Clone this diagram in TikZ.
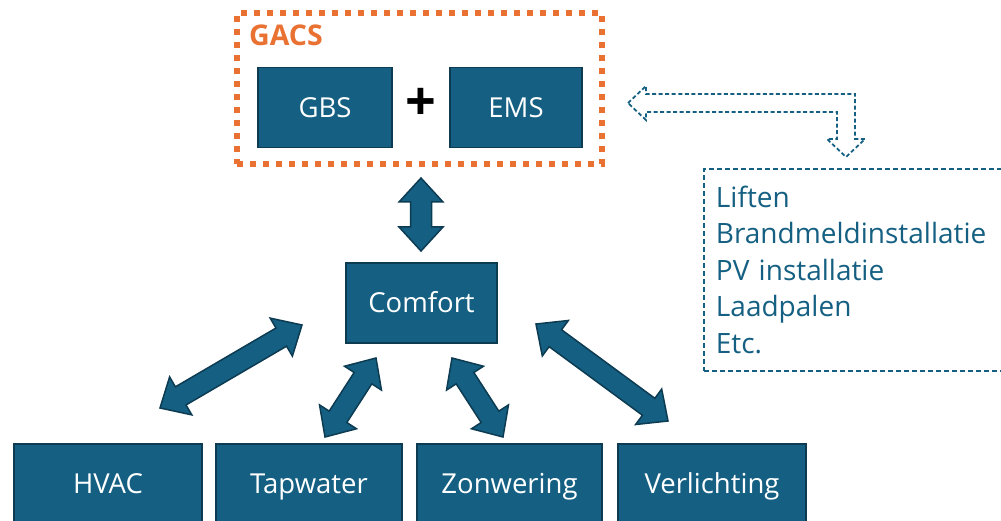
\documentclass[tikz,border=0pt]{standalone}
\usepackage{fontspec}
\setmainfont{Open Sans}
\usepackage{tikz}
\usetikzlibrary{calc}

\definecolor{tealblauw}{HTML}{156082}
\definecolor{tealrand}{HTML}{0C3B52}
\definecolor{oranje}{HTML}{E97132}

\tikzset{
  blok/.style={draw=tealrand, line width=1.5pt, fill=tealblauw, text=white,
    font=\fontsize{27.5}{30}\selectfont, minimum height=80pt, inner sep=0pt,
    text height=19.6pt, text depth=0pt},
  blokpijl/.style={draw=tealrand, line width=1.5pt, fill=tealblauw, line join=miter},
  gacsrand/.style={draw=oranje, line width=6pt, dash pattern=on 6pt off 7pt},
  lijst/.style={draw=tealblauw, line width=1.8pt, dash pattern=on 5pt off 3pt,
    text=tealblauw, align=left, text width=300pt, inner xsep=12pt, inner ysep=17pt,
    font=\fontsize{28}{36.5}\selectfont},
  holpijl/.style={draw=tealblauw, line width=1.8pt, dash pattern=on 4pt off 2.5pt}
}

% dubbele blokpijl van #1 naar #2
\newcommand{\dubbelpijl}[2]{%
  \draw[blokpijl] (#1)
    -- ($(#1)!24pt!(#2)!22pt!90:(#2)$) -- ($(#1)!24pt!(#2)!10.5pt!90:(#2)$)
    -- ($(#2)!24pt!(#1)!10.5pt!90:(#2)$) -- ($(#2)!24pt!(#1)!22pt!90:(#2)$)
    -- (#2)
    -- ($(#2)!24pt!(#1)!22pt!-90:(#2)$) -- ($(#2)!24pt!(#1)!10.5pt!-90:(#2)$)
    -- ($(#1)!24pt!(#2)!10.5pt!-90:(#2)$) -- ($(#1)!24pt!(#2)!22pt!-90:(#2)$)
    -- cycle;}

\begin{document}
\begin{tikzpicture}[x=1pt, y=-1pt]
\useasboundingbox (0,0) rectangle (1001,521);
% GACS
\node [gacsrand, minimum width=365pt, minimum height=151pt] (gacs) at (419.5,88.5) {};
\node [anchor=base west, inner sep=0pt, text=oranje, font=\fontsize{28.5}{28}\selectfont\bfseries] (gacslabel) at (249,46) {GACS};
\node [blok, minimum width=134pt] (gbs) at (325,107.5) {GBS};
\node [blok, minimum width=132pt] (ems) at (516,107.5) {EMS};
\node [inner sep=0pt, font=\fontsize{54}{54}\selectfont\bfseries] (plus) at (421,104) {+};
% comfort en installaties
\node [blok, minimum width=151pt] (comfort) at (421.5,303) {Comfort};
\node [blok, minimum width=188pt] (hvac) at (108,484) {HVAC};
\node [blok, minimum width=186pt] (tapwater) at (309,484) {Tapwater};
\node [blok, minimum width=185pt] (zonwering) at (509.5,484) {Zonwering};
\node [blok, minimum width=188pt] (verlichting) at (712,484) {Verlichting};
% overige installaties
\node [lijst, anchor=north west] (overig) at (703,168) {Liften\\Brandmeldinstallatie\\PV installatie\\Laadpalen\\Etc.};
% pijlen
\coordinate (v1) at (421,178);
\coordinate (v2) at (421,251);
\coordinate (h1) at (302,325);
\coordinate (h2) at (160,408);
\coordinate (t1) at (376,358);
\coordinate (t2) at (325,437);
\coordinate (z1) at (452,358);
\coordinate (z2) at (503,437);
\coordinate (l1) at (536,324);
\coordinate (l2) at (668,421);
\dubbelpijl{v1}{v2}
\dubbelpijl{h1}{h2}
\dubbelpijl{t1}{t2}
\dubbelpijl{z1}{z2}
\dubbelpijl{l1}{l2}
% holle pijl
\coordinate (hp) at (628,103);
\draw [holpijl] (hp) -- ++(18,-17) -- ++(0,8) -- ++(209,0) -- ++(0,45)
  -- ++(10,0) -- ++(-19,18) -- ++(-19,-18) -- ++(10,0) -- ++(0,-27)
  -- ++(-191,0) -- ++(0,8) -- cycle;
\end{tikzpicture}
\end{document}
